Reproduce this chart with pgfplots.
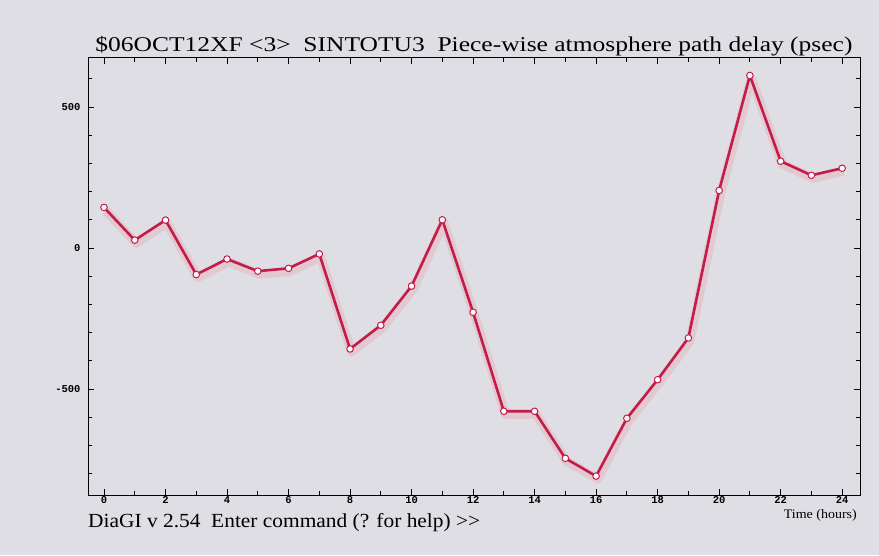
\documentclass[border=0pt]{standalone}
\usepackage{pgfplots}
\pgfplotsset{compat=1.18}
\usepackage{fontspec}
\setmainfont{Liberation Serif}[Ligatures=NoCommon]
\newfontfamily\tickfont{Liberation Mono}
\usepackage{graphicx}
\definecolor{bgcol}{RGB}{222,222,228}
\definecolor{linecol}{RGB}{196,28,72}
\definecolor{halocol}{RGB}{232,160,175}
\pgfplotstableread{
x y
0 144
1 28
2 99
3 -94
4 -39
5 -82
6 -72
7 -21
8 -358
9 -274
10 -135
11 100
12 -228
13 -579
14 -579
15 -746
16 -809
17 -604
18 -467
19 -319
20 204
21 612
22 308
23 258
24 283
}\delaytable
\begin{document}
\begin{tikzpicture}
\fill[bgcol] (0,0) rectangle (879pt,555pt);
\path[use as bounding box] (0,0) rectangle (879pt,555pt);
\begin{axis}[
  at={(88pt,60pt)}, anchor=south west,
  scale only axis, width=772pt, height=437pt,
  xmin=-0.52, xmax=24.58, ymin=-876, ymax=674,
  axis line style={line width=1pt, black},
  xtick={0,2,...,24}, minor xtick={1,3,...,23},
  ytick={-500,0,500}, minor ytick={-800,-700,-600,-400,-300,-200,-100,100,200,300,400,600},
  tick align=inside,
  major tick length=6pt, minor tick length=4pt,
  tick style={black, line width=0.8pt},
  xticklabel style={font=\tickfont\bfseries\fontsize{10.5}{12}\selectfont, yshift=2pt},
  yticklabel style={font=\tickfont\bfseries\fontsize{10.5}{12}\selectfont, xshift=-4pt},
  /pgf/number format/assume math mode=true,
  xticklabel={\pgfmathprintnumber{\tick}},
  yticklabel={\pgfmathprintnumber{\tick}},
  clip=false,
]
\addplot[halocol, opacity=0.35, line width=9pt, line join=round, shift={(1.5pt,-3pt)}] table[x=x,y=y] {\delaytable};
\addplot[linecol, line width=2.6pt, line join=round, mark=*, mark size=3.3pt,
  mark options={fill=white, draw=linecol, line width=1pt}] table[x=x,y=y] {\delaytable};
\node[anchor=base, inner sep=0] at (rel axis cs:0.5,1) [yshift=6pt]
  {\resizebox{757pt}{\height}{\fontsize{21}{24}\selectfont \$06OCT12XF <3>\ \ SINTOTU3\ \ Piece-wise atmosphere path delay (psec)}};
\node[anchor=base east, inner sep=0] at (rel axis cs:1,0) [xshift=-3pt, yshift=-23pt]
  {\resizebox{73pt}{\height}{\fontsize{13}{15}\selectfont Time (hours)}};
\node[anchor=base west, inner sep=0] at (rel axis cs:0,0) [yshift=-32pt]
  {\resizebox{392pt}{\height}{\fontsize{20}{24}\selectfont DiaGI v 2.54\ \ Enter command (? for help) >{}>}};
\end{axis}
\end{tikzpicture}
\end{document}
